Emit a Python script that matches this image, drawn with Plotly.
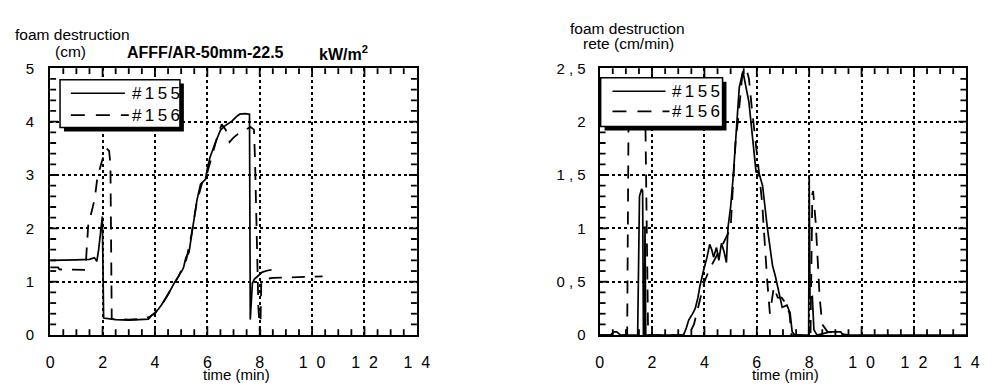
import plotly.graph_objects as go

W, H = 998, 388

# ---- Foam destruction depth (cm) vs time (min) ----
t155_depth = [0.0, 0.5, 1.0, 1.5, 1.68, 1.72, 1.78, 1.85, 1.99, 2.04, 2.5, 3.0, 3.5, 3.75, 3.85,
              4.0, 4.24, 4.5, 4.73, 4.9, 5.05, 5.1, 5.18, 5.3, 5.48, 5.6, 5.74, 5.93, 6.0, 6.1,
              6.3, 6.5, 6.67, 6.94, 7.12, 7.24, 7.45, 7.61, 7.64, 7.72, 7.8, 7.95, 8.1, 8.3, 8.45]
d155_depth = [1.40, 1.40, 1.41, 1.42, 1.45, 1.43, 1.38, 1.60, 2.22, 0.32, 0.29, 0.28, 0.29, 0.30, 0.36,
              0.40, 0.56, 0.76, 0.97, 1.10, 1.22, 1.28, 1.45, 1.55, 2.10, 2.52, 2.83, 2.92, 3.12, 3.33,
              3.60, 3.84, 3.92, 4.01, 4.10, 4.14, 4.15, 4.14, 0.29, 0.97, 1.05, 1.12, 1.18, 1.21, 1.22]

t156_depth = [0.0, 0.3, 0.35, 1.35, 1.38, 1.45, 1.55, 1.7, 1.8, 1.9, 2.0, 2.15, 2.25, 2.3, 2.35,
              2.6, 3.0, 3.5, 3.8, 4.0, 4.3, 4.6, 4.9, 5.2, 5.4, 5.6, 5.8, 6.0, 6.2, 6.4, 6.55,
              6.7, 6.85, 7.0, 7.2, 7.45, 7.65, 7.78, 7.82, 7.95, 8.02, 8.06, 8.2, 8.5, 9.0, 9.5,
              10.0, 10.4]
d156_depth = [1.27, 1.27, 1.23, 1.22, 1.50, 2.05, 2.25, 2.55, 2.95, 3.15, 3.30, 3.50, 3.45, 3.20, 0.30,
              0.30, 0.29, 0.30, 0.34, 0.42, 0.60, 0.85, 1.10, 1.42, 1.90, 2.50, 2.85, 3.05, 3.40, 3.75, 3.95,
              3.85, 3.62, 3.70, 3.78, 3.85, 3.90, 3.85, 3.30, 0.50, 0.00, 1.00, 1.05, 1.07, 1.08, 1.08,
              1.10, 1.10]

# ---- Foam destruction rate (cm/min) vs time (min) ----
t155_rate = [0.0, 0.4, 0.55, 0.65, 0.8, 1.45, 1.52, 1.6, 1.64, 1.67, 1.71, 1.73, 1.76, 3.2, 3.3,
             3.4, 3.55, 3.65, 3.75, 3.83, 3.97, 4.1, 4.2, 4.28, 4.35, 4.46, 4.55, 4.65, 4.75, 4.84,
             4.9, 5.0, 5.1, 5.2, 5.33, 5.47, 5.59, 5.7, 5.85, 5.97, 6.08, 6.22, 6.4, 6.6, 6.7,
             6.83, 6.97, 7.15, 7.27, 7.35, 7.45, 7.98, 8.0, 8.03, 8.12, 8.18, 8.3, 8.8, 9.2, 9.3, 14.0]
r155_rate = [0.0, 0.0, 0.03, 0.03, 0.0, 0.0, 1.30, 1.37, 1.35, 0.0, 0.0, 1.02, 0.0, 0.0, 0.06,
             0.14, 0.20, 0.25, 0.35, 0.46, 0.61, 0.73, 0.85, 0.80, 0.73, 0.82, 0.70, 0.86, 0.78, 0.68,
             1.01, 1.20, 1.49, 1.87, 2.32, 2.47, 2.30, 2.18, 1.82, 1.53, 1.52, 1.40, 1.01, 0.65, 0.56,
             0.41, 0.26, 0.28, 0.21, 0.03, 0.0, 0.0, 1.50, 0.35, 0.36, 0.05, 0.0, 0.03, 0.03, 0.0, 0.0]

t156_rate = [0.0, 1.05, 1.1, 1.7, 1.75, 1.8, 1.85, 3.4, 3.6, 3.8, 4.0, 4.2, 4.5, 4.7, 4.9, 5.0,
             5.1, 5.2, 5.3, 5.45, 5.6, 5.7, 5.8, 5.95, 6.05, 6.2, 6.3, 6.4, 6.5, 6.65, 6.8, 6.95,
             7.1, 7.25, 7.32, 7.4, 8.05, 8.12, 8.15, 8.25, 8.32, 8.4, 8.5, 8.7, 9.0, 9.5]
r156_rate = [0.0, 0.0, 1.95, 1.95, 1.92, 1.00, 0.0, 0.0, 0.10, 0.30, 0.50, 0.62, 0.75, 0.85, 0.95, 1.00,
             1.45, 1.85, 2.05, 2.45, 2.50, 2.40, 2.15, 1.85, 1.60, 1.25, 0.85, 0.50, 0.20, 0.45, 0.35, 0.35,
             0.30, 0.20, 0.0, 0.0, 0.0, 1.32, 1.35, 1.05, 0.70, 0.35, 0.10, 0.03, 0.02, 0.0]

# spaced-out tick labels, as printed on the original axes
x_labels = {"10": "1\u00a0\u00a00", "12": "1\u00a0\u00a02", "14": "1\u00a0\u00a04"}
rate_labels = {"0.5": "0 , 5", "1.5": "1 , 5", "2.5": "2 , 5"}

FONT = "Liberation Sans, Arial, Helvetica, sans-serif"
SOLID = dict(color="black", width=1.7)
DASHED = dict(color="black", width=1.8, dash="13px,10px")

fig = go.Figure()
fig.add_trace(go.Scatter(x=t155_depth, y=d155_depth, mode="lines", line=SOLID, xaxis="x", yaxis="y"))
fig.add_trace(go.Scatter(x=t156_depth, y=d156_depth, mode="lines", line=DASHED, xaxis="x", yaxis="y"))
fig.add_trace(go.Scatter(x=t155_rate, y=r155_rate, mode="lines", line=SOLID, xaxis="x2", yaxis="y2"))
fig.add_trace(go.Scatter(x=t156_rate, y=r156_rate, mode="lines", line=DASHED, xaxis="x2", yaxis="y2"))


def px(x):
    return x / W


def py(y):
    return 1 - y / H


X_LEFT, X_RIGHT, Y_TOP, Y_BOTTOM = (47, 420), (606, 979), 62, 341
PLOT_W, PLOT_H = X_LEFT[1] - X_LEFT[0], Y_BOTTOM - Y_TOP

frame = dict(showline=True, linewidth=2, linecolor="black", mirror=True, ticks="",
             showgrid=True, gridcolor="black", griddash="dot", gridwidth=1.6,
             zeroline=False)

xcommon = dict(frame, range=[0, 14], tickmode="linear", tick0=0, dtick=2, labelalias=x_labels,
               ticklabelstandoff=12, tickfont=dict(family=FONT, size=16, color="black"))

ydom = [py(Y_BOTTOM), py(Y_TOP)]

fig.update_layout(
    width=W, height=H, margin=dict(l=0, r=0, t=0, b=0),
    paper_bgcolor="white", plot_bgcolor="white", showlegend=False,
    xaxis=dict(xcommon, domain=[px(X_LEFT[0]), px(X_LEFT[1])], anchor="y"),
    yaxis=dict(frame, domain=ydom, range=[0, 5], anchor="x", tickmode="linear", tick0=0, dtick=1,
               ticklabelstandoff=11, tickfont=dict(family=FONT, size=15, color="black")),
    xaxis2=dict(xcommon, domain=[px(X_RIGHT[0]), px(X_RIGHT[1])], anchor="y2"),
    yaxis2=dict(frame, domain=ydom, range=[0, 2.5], anchor="x2", tickmode="linear", tick0=0,
                dtick=0.5, labelalias=rate_labels, ticklabelstandoff=9,
                tickfont=dict(family=FONT, size=15, color="black")),
)

shapes = []
annotations = []


# ---- inward tick marks on all four sides of each frame ----
def frame_ticks(xa, ya, x_max, x_step, x_major, y_max, y_step, y_major):
    tick_line = dict(color="black", width=1.8)
    n = int(round(x_max / x_step))
    for i in range(1, n):
        v = i * x_step
        ln = (9 if abs(v / x_major - round(v / x_major)) < 1e-9 else 6) / PLOT_H
        for a, b in ((0, ln), (1, 1 - ln)):
            shapes.append(dict(type="line", xref=xa, yref=ya + " domain", x0=v, x1=v, y0=a, y1=b,
                               line=tick_line, layer="above"))
    n = int(round(y_max / y_step))
    for i in range(1, n):
        v = i * y_step
        ln = (8 if abs(v / y_major - round(v / y_major)) < 1e-9 else 6) / PLOT_W
        for a, b in ((0, ln), (1, 1 - ln)):
            shapes.append(dict(type="line", xref=xa + " domain", yref=ya, x0=a, x1=b, y0=v, y1=v,
                               line=tick_line, layer="above"))


frame_ticks("x", "y", 14, 0.5, 2, 5, 0.2, 1)
frame_ticks("x2", "y2", 14, 0.5, 2, 2.5, 0.1, 0.5)


# ---- Legend boxes (drawn with a drop shadow) ----
def legend_box(x0, y0, x1, y1, row1, row2, line_x0, line_x1, text_x):
    shapes.append(dict(type="rect", xref="paper", yref="paper", layer="above",
                       x0=px(x0 + 4), x1=px(x1 + 4), y0=py(y1 + 4), y1=py(y0 + 4),
                       fillcolor="black", line=dict(width=0)))
    shapes.append(dict(type="rect", xref="paper", yref="paper", layer="above",
                       x0=px(x0), x1=px(x1), y0=py(y1), y1=py(y0),
                       fillcolor="white", line=dict(color="black", width=1.5)))
    shapes.append(dict(type="line", xref="paper", yref="paper", layer="above",
                       x0=px(line_x0), x1=px(line_x1 - 4), y0=py(row1), y1=py(row1),
                       line=dict(color="black", width=1.5)))
    shapes.append(dict(type="line", xref="paper", yref="paper", layer="above",
                       x0=px(line_x0), x1=px(line_x1), y0=py(row2), y1=py(row2),
                       line=dict(color="black", width=1.8, dash="14px,11px")))
    for text, row in (("#\u20091\u20095\u20095", row1), ("#\u20091\u20095\u20096", row2)):
        annotations.append(dict(xref="paper", yref="paper", x=px(text_x), y=py(row),
                                xanchor="left", yanchor="middle", showarrow=False,
                                text=text, font=dict(family=FONT, size=17, color="black")))


legend_box(57, 74, 179, 124, 88, 111, 68, 127, 128)
legend_box(607, 72, 731, 123, 86, 107, 619, 677, 678)


def label(x, y, text, size=15.5, anchor="center", bold=False):
    annotations.append(dict(xref="paper", yref="paper", x=px(x), y=py(y),
                            xanchor=anchor, yanchor="middle", showarrow=False, text=text,
                            font=dict(family=FONT, size=size, color="black",
                                      weight="bold" if bold else "normal")))


# axis captions and title
label(70, 27, "foam destruction")
label(68, 44, "(cm)")
label(123, 46, "AFFF/AR-50mm-22.5", size=16, anchor="left", bold=True)
label(318, 46, "kW/m<sup>2</sup>", size=16, anchor="left", bold=True)
label(634, 20, "foam destruction")
label(635, 36, "rete (cm/min)")
label(237, 382, "time (min)", size=15)
label(795, 382, "time (min)", size=15)

fig.update_layout(shapes=shapes, annotations=annotations)

fig.write_html("out.html")
